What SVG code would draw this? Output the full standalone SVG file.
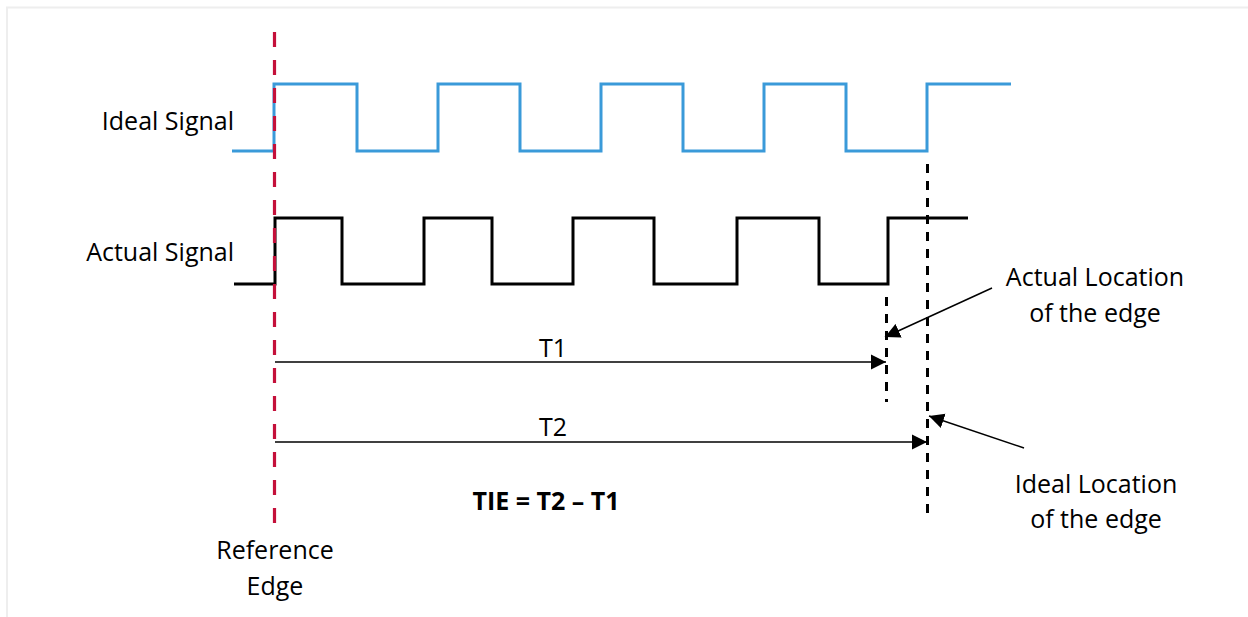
<svg xmlns="http://www.w3.org/2000/svg" width="1248" height="617" viewBox="0 0 1248 617">
<defs>
<marker id="ah" markerUnits="userSpaceOnUse" markerWidth="16" markerHeight="16" viewBox="0 0 16 16" refX="15" refY="8" orient="auto">
<path d="M0,0.5 L15,8 L0,15.5 Z" fill="#000"/>
</marker>
<style>
.lbl{font-family:"Open Sans","Noto Sans",sans-serif;font-size:25px;fill:#000}
.b{font-weight:bold}
.sig{fill:none;stroke-width:3;stroke-linejoin:miter}
.conn{fill:none;stroke:#000;stroke-width:1.5}
.vdash{fill:none;stroke:#000;stroke-width:3;stroke-dasharray:9 8}
</style>
</defs>
<rect width="1248" height="617" fill="#fff"/>
<path d="M7,617 V7.5 H1248" fill="none" stroke="#eeeeee" stroke-width="2"/>

<g id="ideal-signal">
<path class="sig" stroke="#3a9ad9" d="M232,151 H274 V84 H357 V151 H438 V84 H520 V151 H601 V84 H683 V151 H764 V84 H846 V151 H927 V84 H1011"/>
<text class="lbl" x="234" y="130" text-anchor="end">Ideal Signal</text>
</g>

<g id="actual-signal">
<path class="sig" stroke="#000" d="M234,284 H275 V218 H342 V284 H424 V218 H492 V284 H573 V218 H654 V284 H737 V218 H819 V284 H888 V218 H968"/>
<text class="lbl" x="234" y="261" text-anchor="end">Actual Signal</text>
</g>

<g id="reference-edge">
<line x1="274.5" y1="32" x2="274.5" y2="523" stroke="#c4103a" stroke-width="3.2" stroke-dasharray="15 13"/>
<text class="lbl" x="275" y="559" text-anchor="middle">Reference</text>
<text class="lbl" x="275" y="595" text-anchor="middle">Edge</text>
</g>

<g id="actual-edge">
<line class="vdash" x1="886.5" y1="297" x2="886.5" y2="402"/>
<text class="lbl" x="1095" y="286" text-anchor="middle">Actual Location</text>
<text class="lbl" x="1095" y="322" text-anchor="middle">of the edge</text>
</g>

<g id="ideal-edge">
<line class="vdash" x1="927.5" y1="164" x2="927.5" y2="521"/>
<text class="lbl" x="1096" y="493" text-anchor="middle">Ideal Location</text>
<text class="lbl" x="1096" y="528" text-anchor="middle">of the edge</text>
</g>

<g id="formula">
<text class="lbl b" x="546" y="510" text-anchor="middle">TIE = T2 – T1</text>
</g>

<g id="connectors">
<line class="conn" x1="275" y1="362" x2="886" y2="362" marker-end="url(#ah)"/>
<text class="lbl" x="553" y="357" text-anchor="middle">T1</text>
<line class="conn" x1="275" y1="442" x2="927" y2="442" marker-end="url(#ah)"/>
<text class="lbl" x="553" y="436" text-anchor="middle">T2</text>
<line class="conn" x1="992" y1="288" x2="885" y2="337" marker-end="url(#ah)"/>
<line class="conn" x1="1024" y1="448" x2="929" y2="416" marker-end="url(#ah)"/>
</g>
</svg>
